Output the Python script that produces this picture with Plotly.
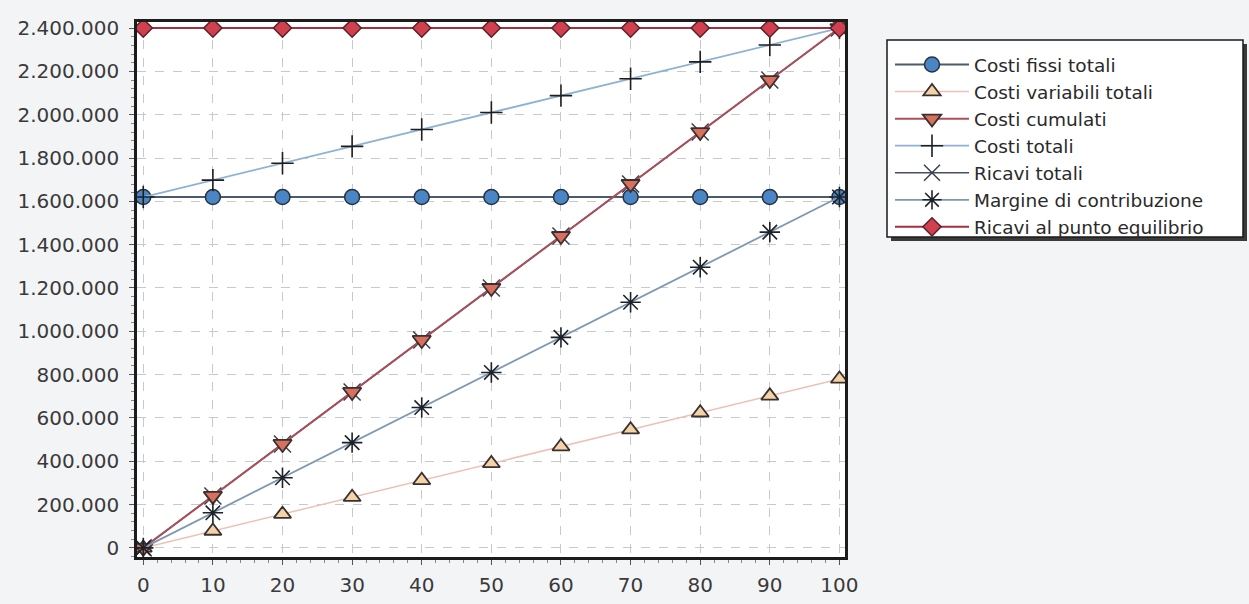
import plotly.graph_objects as go

# Volume levels (units, in % of capacity)
volumi = [0, 10, 20, 30, 40, 50, 60, 70, 80, 90, 100]

# Series values (euro)
costi_fissi_totali = [1620000, 1620000, 1620000, 1620000, 1620000, 1620000,
                      1620000, 1620000, 1620000, 1620000, 1620000]
costi_variabili_totali = [0, 78000, 156000, 234000, 312000, 390000,
                          468000, 546000, 624000, 702000, 780000]
costi_cumulati = [0, 240000, 480000, 720000, 960000, 1200000,
                  1440000, 1680000, 1920000, 2160000, 2400000]
costi_totali = [1620000, 1698000, 1776000, 1854000, 1932000, 2010000,
                2088000, 2166000, 2244000, 2322000, 2400000]
ricavi_totali = [0, 240000, 480000, 720000, 960000, 1200000,
                 1440000, 1680000, 1920000, 2160000, 2400000]
margine_contribuzione = [0, 162000, 324000, 486000, 648000, 810000,
                         972000, 1134000, 1296000, 1458000, 1620000]
ricavi_punto_equilibrio = [2400000, 2400000, 2400000, 2400000, 2400000, 2400000,
                           2400000, 2400000, 2400000, 2400000, 2400000]

y_ticks = [0, 200000, 400000, 600000, 800000, 1000000, 1200000,
           1400000, 1600000, 1800000, 2000000, 2200000, 2400000]
y_tick_labels = ["0", "200.000", "400.000", "600.000", "800.000", "1.000.000",
                 "1.200.000", "1.400.000", "1.600.000", "1.800.000",
                 "2.000.000", "2.200.000", "2.400.000"]

FONT = "DejaVu Sans"
OUTLINE = "#3a3030"

fig = go.Figure()

fig.add_trace(go.Scatter(
    x=volumi, y=costi_fissi_totali, name="Costi fissi totali",
    mode="lines+markers", legendrank=1,
    line=dict(color="#4d5a6a", width=2),
    marker=dict(symbol="circle", size=15, color="#4a86c6",
                line=dict(color="#27323e", width=1.5)),
))
fig.add_trace(go.Scatter(
    x=volumi, y=costi_variabili_totali, name="Costi variabili totali",
    mode="lines+markers", legendrank=2,
    line=dict(color="#ecc2b4", width=1.5),
    marker=dict(symbol="triangle-up", size=15, color="#f4d3a6",
                line=dict(color=OUTLINE, width=1.8)),
))
fig.add_trace(go.Scatter(
    x=volumi, y=ricavi_totali, name="Ricavi totali",
    mode="lines+markers", legendrank=5,
    line=dict(color="#4a4f5c", width=1.5),
    marker=dict(symbol="x-thin", size=17, color="#3a3f4c",
                line=dict(color="#3a3f4c", width=1.5)),
))
fig.add_trace(go.Scatter(
    x=volumi, y=costi_cumulati, name="Costi cumulati",
    mode="lines+markers", legendrank=3,
    line=dict(color="#a9505c", width=2),
    marker=dict(symbol="triangle-down", size=16, color="#d9705e",
                line=dict(color=OUTLINE, width=1.8)),
))
fig.add_trace(go.Scatter(
    x=volumi, y=costi_totali, name="Costi totali",
    mode="lines+markers", legendrank=4,
    line=dict(color="#8fb2d2", width=1.8),
    marker=dict(symbol="cross-thin", size=16, color="#1e1e1e",
                line=dict(color="#1e1e1e", width=1.6)),
))
fig.add_trace(go.Scatter(
    x=volumi, y=margine_contribuzione, name="Margine di contribuzione",
    mode="lines+markers", legendrank=6,
    line=dict(color="#7d98b3", width=1.8),
    marker=dict(symbol="asterisk", size=17, color="#1e2228",
                line=dict(color="#1e2228", width=1.6)),
))
fig.add_trace(go.Scatter(
    x=volumi, y=ricavi_punto_equilibrio, name="Ricavi al punto equilibrio",
    mode="lines+markers", legendrank=7,
    line=dict(color="#a3303f", width=2),
    marker=dict(symbol="diamond", size=14, color="#d0404f",
                line=dict(color="#5a2028", width=1.5)),
))

# plot area in pixels: left 137, right 845, top 22, bottom 557
L, R, T, B = 137, 404, 22, 47
PW, PH = 1249 - L - R, 604 - T - B


def px_x(x):
    return (x - L) / PW


def px_y(y):
    return (604 - B - y) / PH


legend_box = dict(x0=887, x1=1243, y0=40, y1=237)
shadow = 4

fig.update_layout(
    width=1249, height=604,
    margin=dict(l=L, r=R, t=T, b=B),
    paper_bgcolor="#f3f4f6",
    plot_bgcolor="#ffffff",
    font=dict(family=FONT, color="#333333"),
    showlegend=True,
    legend=dict(
        x=px_x(890), y=px_y(46), xanchor="left", yanchor="top",
        bgcolor="rgba(0,0,0,0)", borderwidth=0,
        font=dict(family=FONT, size=18.5, color="#2a2a2a"),
        itemwidth=74,
    ),
    shapes=[
        dict(type="rect", xref="paper", yref="paper", layer="above",
             x0=px_x(legend_box["x0"] + shadow), x1=px_x(legend_box["x1"] + shadow),
             y0=px_y(legend_box["y1"] + shadow), y1=px_y(legend_box["y0"] + shadow),
             fillcolor="#3a3a3a", line=dict(width=0)),
        dict(type="rect", xref="paper", yref="paper", layer="above",
             x0=px_x(legend_box["x0"]), x1=px_x(legend_box["x1"]),
             y0=px_y(legend_box["y1"]), y1=px_y(legend_box["y0"]),
             fillcolor="#ffffff", line=dict(color="#1a1a1a", width=1.5)),
    ],
)

fig.update_xaxes(
    range=[-0.9, 100.8], automargin=False,
    tickmode="array", tickvals=volumi, ticktext=[str(v) for v in volumi],
    tickfont=dict(family=FONT, size=20, color="#3a3a3a"),
    ticks="outside", ticklen=5, tickcolor="#555555", ticklabelstandoff=3,
    minor=dict(dtick=2, ticks="outside", ticklen=3, tickcolor="#888888",
               showgrid=False),
    showgrid=True, gridcolor="#c6cad0", griddash="dash", gridwidth=1,
    showline=True, linecolor="#1c1c1c", linewidth=2.5, mirror=True,
    zeroline=False,
)
fig.update_yaxes(
    range=[-42000, 2428000], automargin=False,
    tickmode="array", tickvals=y_ticks, ticktext=y_tick_labels,
    tickfont=dict(family=FONT, size=20, color="#3a3a3a"),
    ticks="outside", ticklen=5, tickcolor="#555555", ticklabelstandoff=6,
    minor=dict(dtick=40000, ticks="outside", ticklen=3, tickcolor="#888888",
               showgrid=False),
    showgrid=True, gridcolor="#c6cad0", griddash="dash", gridwidth=1,
    showline=True, linecolor="#1c1c1c", linewidth=2.5, mirror=True,
    zeroline=False,
)

fig.write_html("out.html")
